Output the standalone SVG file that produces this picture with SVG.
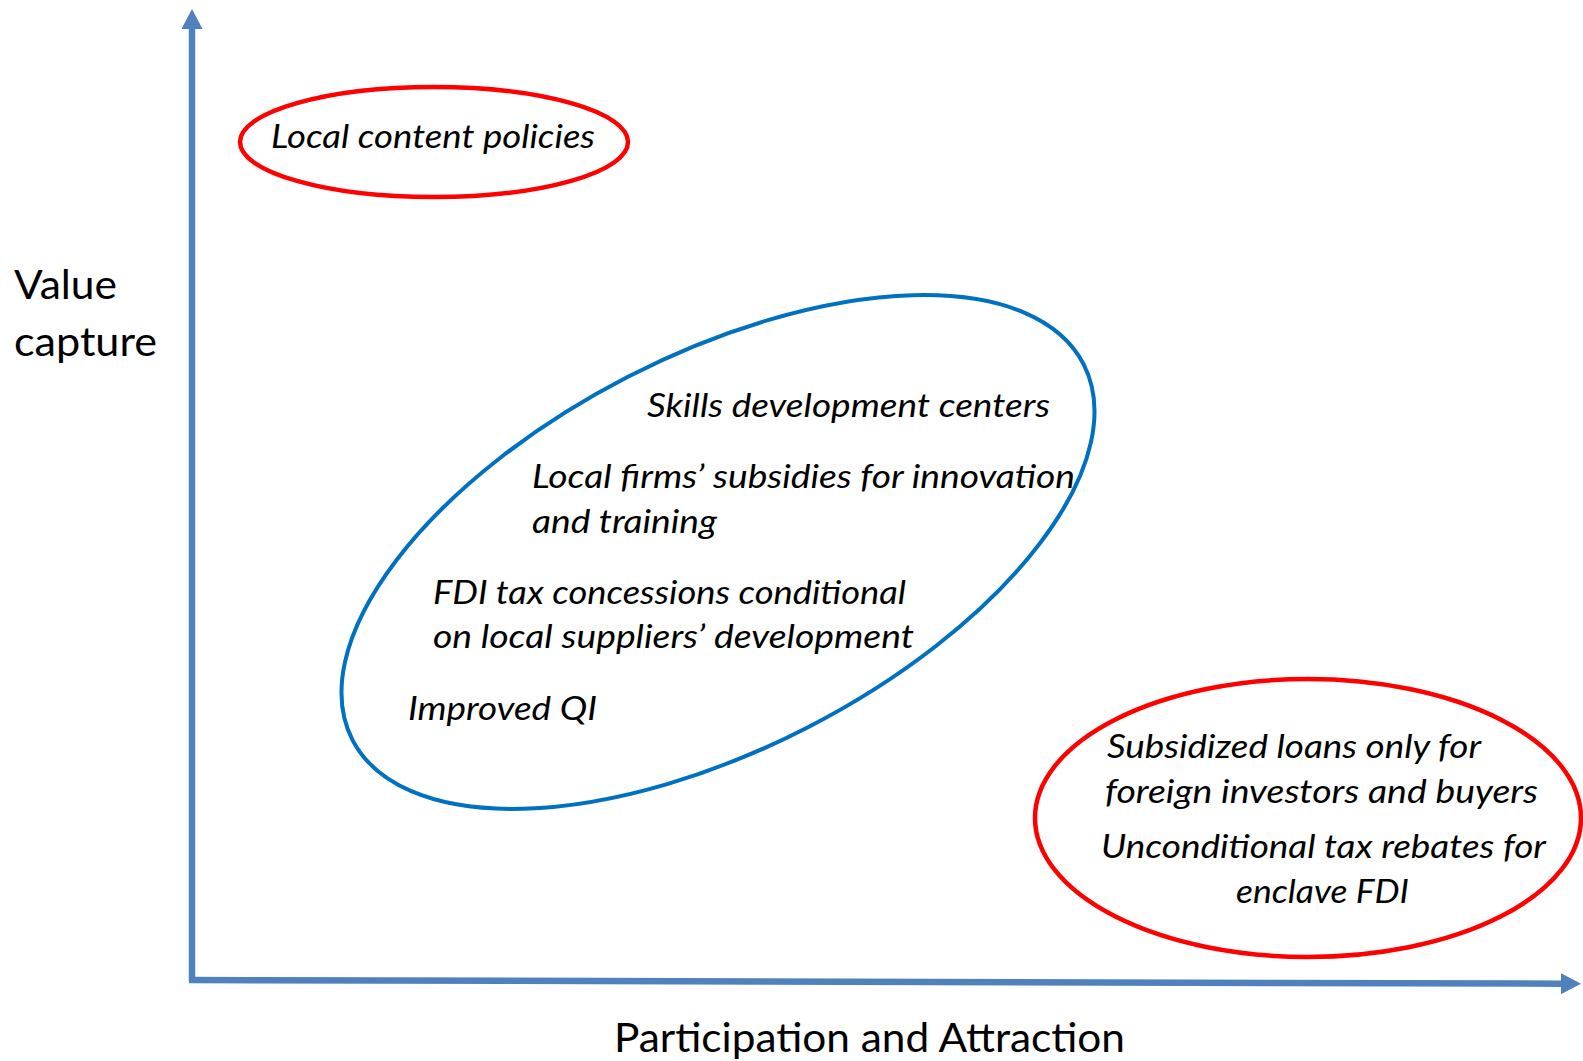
<svg xmlns="http://www.w3.org/2000/svg" width="1583" height="1061" viewBox="0 0 1583 1061">
  <style>
    .axis-label { font-family: Lato, "Liberation Sans", sans-serif; font-size: 41px; fill: #000; }
    .item { font-family: Lato, "Liberation Sans", sans-serif; font-style: italic; font-size: 32.5px; fill: #000; }
    .red { fill: none; stroke: #FF0000; stroke-width: 4.5; }
    .blue { fill: none; stroke: #0070C0; stroke-width: 4; }
    .axis { fill: none; stroke: #4F81BD; stroke-width: 6.5; }
  </style>
  <defs>
    <marker id="arrow" viewBox="0 0 20 21" refX="0" refY="10.5" markerWidth="20" markerHeight="21" markerUnits="userSpaceOnUse" orient="auto">
      <path d="M0,0 L20,10.5 L0,21 Z" fill="#4F81BD"/>
    </marker>
  </defs>
  <rect width="1583" height="1061" fill="#FFFFFF"/>

  <!-- axes -->
  <g id="connectors">
    <path class="axis" d="M192,981 L192,29" marker-end="url(#arrow)"/>
    <path class="axis" d="M189,980 L1561,983.7" marker-end="url(#arrow)"/>
  </g>

  <!-- axis titles -->
  <g id="y-axis-label">
    <text class="axis-label" x="14" y="299" textLength="103" lengthAdjust="spacingAndGlyphs">Value</text>
    <text class="axis-label" x="14" y="356" textLength="143" lengthAdjust="spacingAndGlyphs">capture</text>
  </g>
  <g id="x-axis-label">
    <text class="axis-label" x="614" y="1052" textLength="511" lengthAdjust="spacingAndGlyphs">Participation and Attraction</text>
  </g>

  <!-- high value capture, low participation -->
  <g id="local-content">
    <ellipse class="red" cx="434" cy="142" rx="194" ry="55"/>
    <text class="item" x="271" y="148" font-size="31" textLength="324" lengthAdjust="spacingAndGlyphs">Local content policies</text>
  </g>

  <!-- balanced policy mix -->
  <g id="balanced-policies">
    <ellipse class="blue" cx="718" cy="552" rx="411" ry="197" transform="rotate(-27.2 718 552)"/>
    <text class="item" x="647" y="417" textLength="403" lengthAdjust="spacingAndGlyphs">Skills development centers</text>
    <text class="item" x="532" y="488" textLength="543" lengthAdjust="spacingAndGlyphs">Local firms’ subsidies for innovation</text>
    <text class="item" x="532" y="533" textLength="185" lengthAdjust="spacingAndGlyphs">and training</text>
    <text class="item" x="433" y="604" textLength="473" lengthAdjust="spacingAndGlyphs">FDI tax concessions conditional</text>
    <text class="item" x="433" y="648" textLength="481" lengthAdjust="spacingAndGlyphs">on local suppliers’ development</text>
    <text class="item" x="408" y="720" textLength="189" lengthAdjust="spacingAndGlyphs">Improved QI</text>
  </g>

  <!-- high participation, low value capture -->
  <g id="foreign-incentives">
    <ellipse class="red" cx="1308" cy="818" rx="273" ry="139"/>
    <text class="item" x="1107" y="758" textLength="374" lengthAdjust="spacingAndGlyphs">Subsidized loans only for</text>
    <text class="item" x="1105" y="803" textLength="433" lengthAdjust="spacingAndGlyphs">foreign investors and buyers</text>
    <text class="item" x="1101" y="858" textLength="445" lengthAdjust="spacingAndGlyphs">Unconditional tax rebates for</text>
    <text class="item" x="1236" y="903" textLength="173" lengthAdjust="spacingAndGlyphs">enclave FDI</text>
  </g>
</svg>
